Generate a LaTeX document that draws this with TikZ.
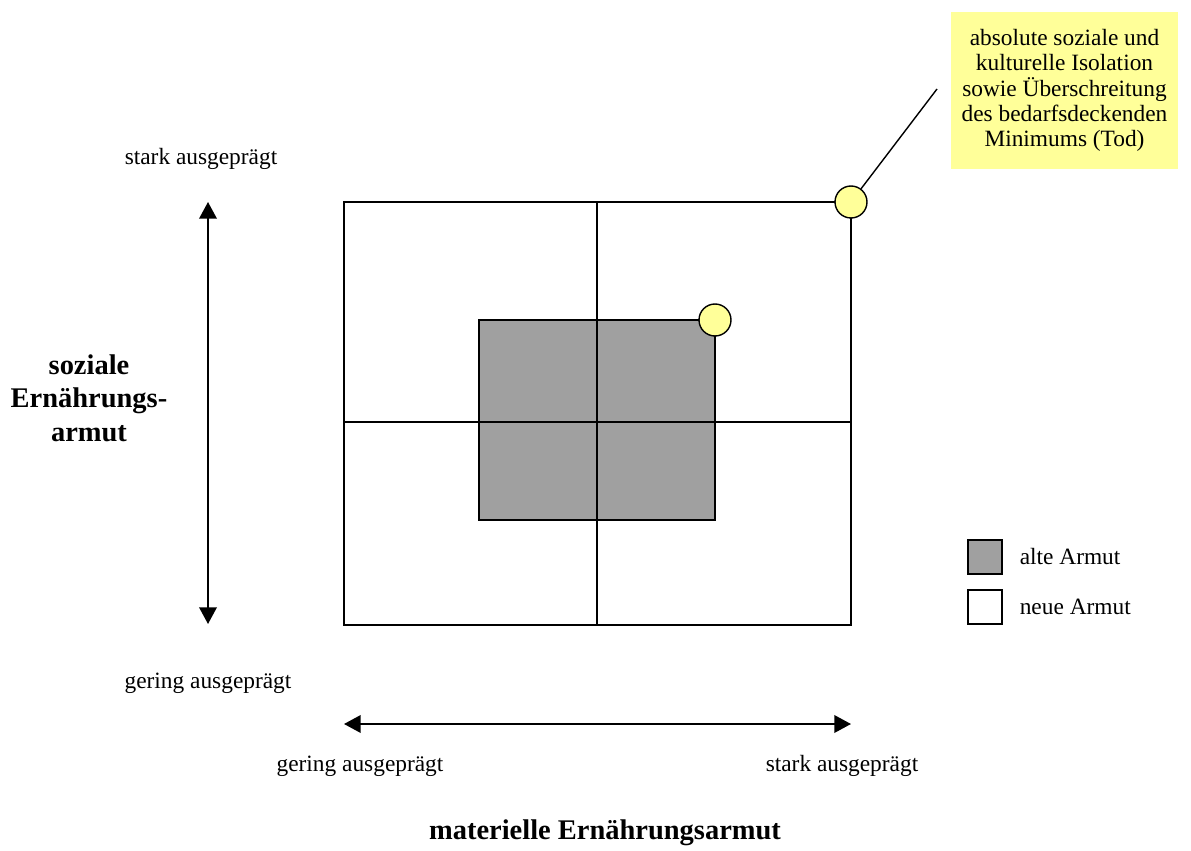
\documentclass[tikz,border=0pt]{standalone}
\usepackage{fontspec}
\setmainfont{Liberation Serif}
\usetikzlibrary{positioning,arrows.meta,calc}

\definecolor{altgray}{HTML}{A0A0A0}
\definecolor{noteyellow}{HTML}{FFFF99}

\begin{document}
\begin{tikzpicture}[x=0.02cm, y=-0.02cm, font=\fontsize{13.3}{14.3}\selectfont,
  >={Triangle[length=9.5pt,width=10pt]},
  grid/.style={line width=0.8pt},
  dot/.style={draw, circle, fill=noteyellow, line width=0.8pt,
              minimum size=0.64cm, inner sep=0pt},
  note/.style={fill=noteyellow, align=center, minimum width=4.54cm,
               minimum height=3.14cm, inner sep=0pt},
  lab/.style={inner sep=1pt},
  big/.style={font=\fontsize{16.2}{19}\selectfont\bfseries, align=center},
  key/.style={draw, line width=0.8pt, minimum size=0.68cm, inner sep=0pt}]
  \useasboundingbox (0,0) rectangle (1191,851);
  % matrix of poverty
  \coordinate (nw) at (344,202);
  \coordinate (se) at (851,625);
  \fill[altgray] (479,320) rectangle (715,520);
  \draw[grid] (479,320) rectangle (715,520);
  \draw[grid] (nw) rectangle (se);
  \draw[grid] (597,202) -- (597,625);
  \draw[grid] (344,422) -- (851,422);
  \node[dot] (olddot) at (715,320) {};
  \node[dot] (topdot) at (851,202) {};
  % note
  \node[note] (tod) at (1064.5,90.5) {absolute soziale und\\kulturelle Isolation\\
    sowie Überschreitung\\des bedarfsdeckenden\\Minimums (Tod)};
  \coordinate (tip) at (937,89);
  \draw[line width=0.8pt] (topdot) -- (tip);
  % axes
  \coordinate (vtop) at (208,202);
  \coordinate (vbot) at (208,624);
  \coordinate (hleft) at (344,724);
  \coordinate (hright) at (851,724);
  \draw[<->, line width=1pt] (vtop) -- (vbot);
  \draw[<->, line width=1pt] (hleft) -- (hright);
  \node[lab] (ystark) at (201,159) {stark ausgeprägt};
  \node[lab] (ygering) at (208,683) {gering ausgeprägt};
  \node[lab] (xgering) at (360,766) {gering ausgeprägt};
  \node[lab] (xstark) at (842,766) {stark ausgeprägt};
  \node[big] (ylab) at (89,398) {soziale\\Ernährungs-\\armut};
  \node[big] (xlab) at (605,833) {materielle Ernährungsarmut};
  % legend
  \node[key, fill=altgray] (keyalt) at (985,557) {};
  \node[key, fill=white] (keyneu) at (985,607) {};
  \node[lab, right=0.3cm of keyalt] (altlab) {alte Armut};
  \node[lab, right=0.3cm of keyneu] (neulab) {neue Armut};
\end{tikzpicture}
\end{document}
